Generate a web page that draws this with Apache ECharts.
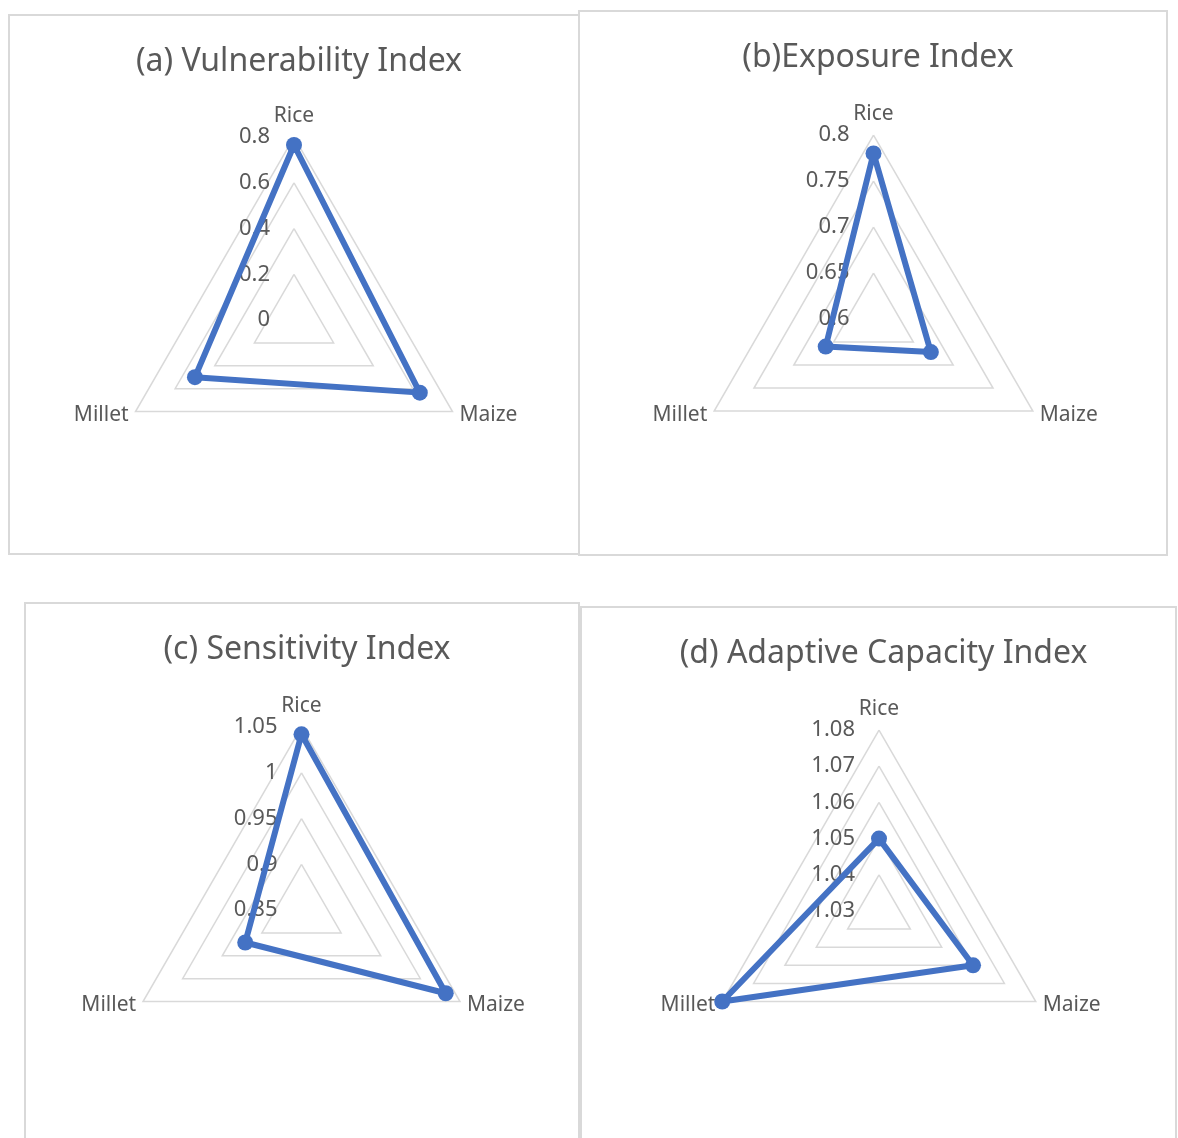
<!DOCTYPE html>
<html>
<head>
<meta charset="utf-8">
<title>Radar indices</title>
<script src="https://cdn.jsdelivr.net/npm/echarts@6/dist/echarts.min.js"></script>
<style>
  html, body { margin: 0; padding: 0; background: #fff; }
  #main { width: 1178px; height: 1138px; }
</style>
</head>
<body>
<div id="main"></div>
<script>
// crops on the radar axes (echarts walks counter-clockwise: top, bottom-left, bottom-right)
var crops = ['Rice', 'Millet', 'Maize']

// index values, in the order of crops
var vulnerability = [0.765, 0.5, 0.635]
var exposure = [0.78, 0.66, 0.672]
var sensitivity = [1.042, 0.921, 1.032]
var adaptiveCapacity = [1.05, 1.08, 1.06]

// axis range of each panel (min, max, number of rings)
var vulnerabilityAxis = [0, 0.8, 4]
var exposureAxis = [0.6, 0.8, 4]
var sensitivityAxis = [0.85, 1.05, 4]
var adaptiveAxis = [1.03, 1.08, 5]

var titles = ['(a) Vulnerability Index', '(b)Exposure Index', '(c) Sensitivity Index', '(d) Adaptive Capacity Index']

var FONT = 'Noto Sans'
var GREY = '#595959'
var BLUE = '#4472C4'

var panels = [
  { box: [9, 15, 570, 539], center: [294, 320], r: 183, titleY: 41, data: vulnerability, axis: vulnerabilityAxis },
  { box: [579, 11, 588, 544], center: [873.5, 319], r: 184, titleY: 37, data: exposure, axis: exposureAxis },
  { box: [25, 603, 554, 560], center: [301.5, 910], r: 183, titleY: 629, data: sensitivity, axis: sensitivityAxis },
  { box: [581, 607, 595, 560], center: [879, 911], r: 181, titleY: 633, data: adaptiveCapacity, axis: adaptiveAxis },
]

function indicators(axis) {
  return crops.map(function (name, i) {
    var ind = { name: name, min: axis[0], max: axis[1] }
    // only the Rice axis carries the value labels
    ind.axisLabel = { show: i === 0 }
    return ind
  })
}

var myChart = echarts.init(document.getElementById('main'))

var option = {
  backgroundColor: '#fff',
  animation: false,
  textStyle: { fontFamily: FONT },
  title: panels.map(function (p, i) {
    return {
      text: titles[i],
      left: p.box[0] + p.box[2] / 2,
      top: p.titleY,
      textAlign: 'center',
      textStyle: { fontFamily: FONT, fontSize: 32, fontWeight: 'normal', color: GREY },
    }
  }),
  graphic: panels.map(function (p) {
    return {
      type: 'rect',
      shape: { x: p.box[0], y: p.box[1], width: p.box[2], height: p.box[3] },
      style: { fill: 'none', stroke: '#d9d9d9', lineWidth: 2 },
      silent: true,
    }
  }),
  radar: panels.map(function (p) {
    return {
      center: p.center,
      radius: p.r,
      startAngle: 90,
      shape: 'polygon',
      splitNumber: p.axis[2],
      indicator: indicators(p.axis),
      axisName: { color: GREY, fontSize: 21, fontFamily: FONT },
      nameGap: 8,
      axisLine: { show: false },
      axisTick: { show: false },
      axisLabel: {
        show: false,
        color: GREY,
        fontSize: 22,
        fontFamily: FONT,
        margin: 24,
        padding: [5, 0, 0, 0],
        formatter: function (v) { return +v.toFixed(2) + '' },
      },
      splitLine: { lineStyle: { color: '#d9d9d9', width: 1.5 } },
      splitArea: { show: false },
    }
  }),
  series: panels.map(function (p, i) {
    return {
      type: 'radar',
      radarIndex: i,
      symbol: 'circle',
      symbolSize: 16,
      lineStyle: { color: BLUE, width: 6 },
      itemStyle: { color: BLUE },
      data: [{ value: p.data, name: titles[i] }],
    }
  }),
}

option && myChart.setOption(option)
</script>
</body>
</html>
